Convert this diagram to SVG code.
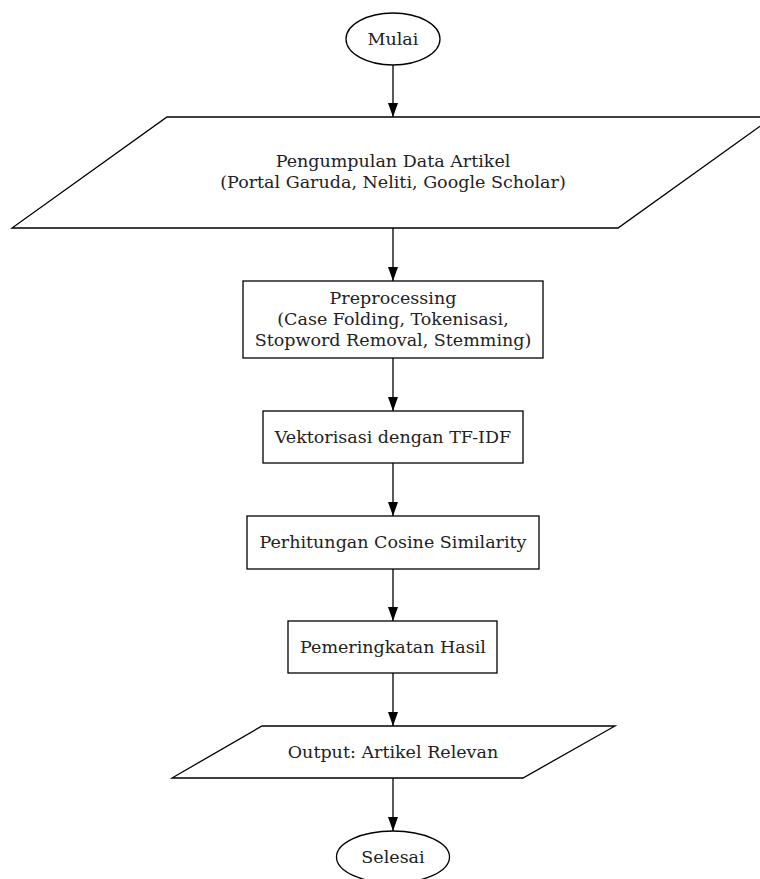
<svg xmlns="http://www.w3.org/2000/svg" width="760" height="879" viewBox="0 0 760 879">
<defs>
<style>
.n{fill:#fff;stroke:#000;stroke-width:1.3}
.t{font-family:"DejaVu Serif",serif;font-size:17.5px;fill:#222;text-anchor:middle}
.e{stroke:#000;stroke-width:1.3;fill:none;marker-end:url(#ah)}
</style>
<marker id="ah" markerWidth="14" markerHeight="10" refX="14" refY="5" orient="auto" markerUnits="userSpaceOnUse">
<path d="M0,0 L14,5 L0,10 Z" fill="#000"/>
</marker>
</defs>
<rect width="760" height="879" fill="#fff"/>
<g id="connectors">
<line class="e" x1="393" y1="65" x2="393" y2="117"/>
<line class="e" x1="393" y1="228" x2="393" y2="281"/>
<line class="e" x1="393" y1="358" x2="393" y2="411"/>
<line class="e" x1="393" y1="463" x2="393" y2="516"/>
<line class="e" x1="393" y1="569" x2="393" y2="621"/>
<line class="e" x1="393" y1="673" x2="393" y2="726"/>
<line class="e" x1="393" y1="778" x2="393" y2="831"/>
</g>
<g id="mulai">
<ellipse class="n" cx="393" cy="39" rx="47" ry="26"/>
<text class="t" x="393" y="45">Mulai</text>
</g>
<g id="pengumpulan">
<polygon class="n" points="167,117 773,117 618,228 12,228"/>
<text class="t" x="393" y="167">Pengumpulan Data Artikel</text>
<text class="t" x="393" y="188">(Portal Garuda, Neliti, Google Scholar)</text>
</g>
<g id="preprocessing">
<rect class="n" x="243" y="281" width="300" height="77"/>
<text class="t" x="393" y="304">Preprocessing</text>
<text class="t" x="393" y="325">(Case Folding, Tokenisasi,</text>
<text class="t" x="393" y="346">Stopword Removal, Stemming)</text>
</g>
<g id="vektorisasi">
<rect class="n" x="263" y="411" width="260" height="52"/>
<text class="t" x="393" y="443">Vektorisasi dengan TF-IDF</text>
</g>
<g id="perhitungan">
<rect class="n" x="247" y="516" width="292" height="53"/>
<text class="t" x="393" y="548">Perhitungan Cosine Similarity</text>
</g>
<g id="pemeringkatan">
<rect class="n" x="288" y="621" width="209" height="52"/>
<text class="t" x="393" y="653">Pemeringkatan Hasil</text>
</g>
<g id="output">
<polygon class="n" points="262,726 615,726 523,778 172,778"/>
<text class="t" x="393" y="758">Output: Artikel Relevan</text>
</g>
<g id="selesai">
<ellipse class="n" cx="393" cy="857" rx="56.5" ry="26"/>
<text class="t" x="393" y="863">Selesai</text>
</g>
</svg>
